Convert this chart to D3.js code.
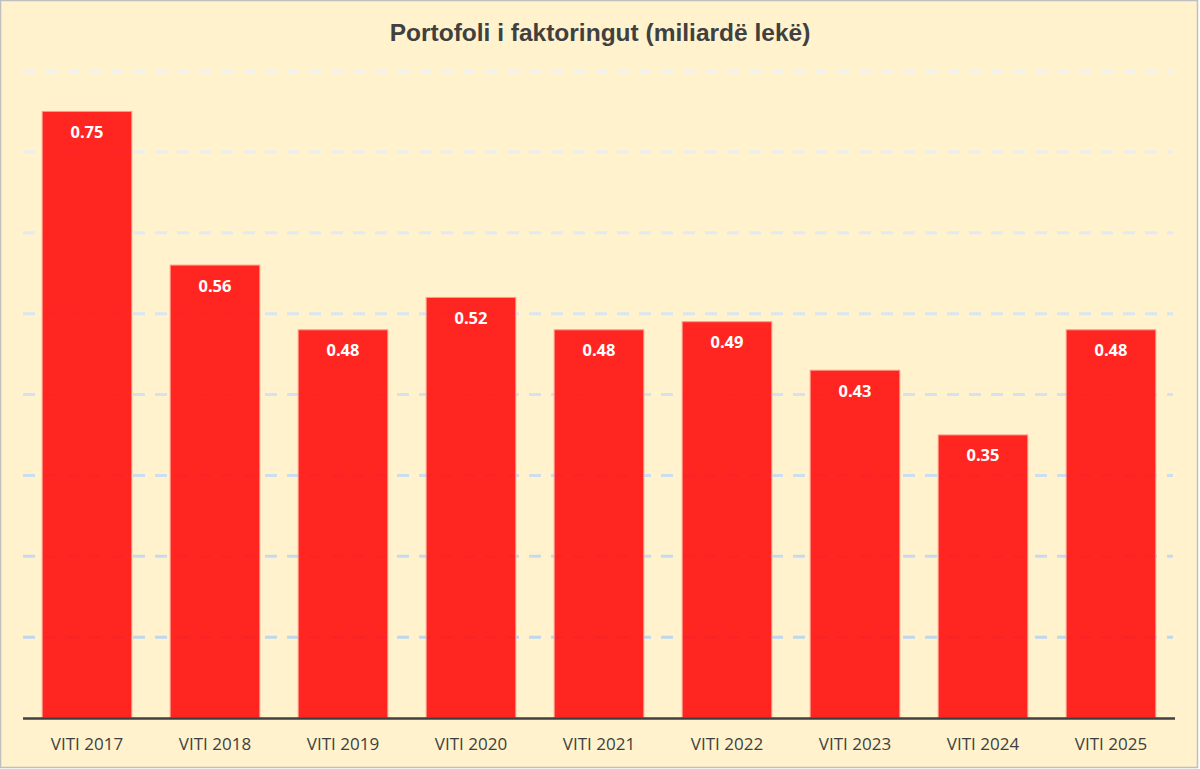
<!DOCTYPE html>
<html>
<head>
<meta charset="utf-8">
<script src="https://cdn.jsdelivr.net/npm/d3@7.9.0/dist/d3.min.js"></script>
<style>
  html, body { margin: 0; padding: 0; background: #fff; }
  svg { display: block; }
</style>
</head>
<body>
<svg id="vis"></svg>
<script>
const width = 1200;
const height = 769;

// --- data ---
const years = ["VITI 2017", "VITI 2018", "VITI 2019", "VITI 2020", "VITI 2021",
               "VITI 2022", "VITI 2023", "VITI 2024", "VITI 2025"];
const portfolio = [0.75, 0.56, 0.48, 0.52, 0.48, 0.49, 0.43, 0.35, 0.48];
const gridTicks = [0.1, 0.2, 0.3, 0.4, 0.5, 0.6, 0.7, 0.8];
const title = "Portofoli i faktoringut (miliardë lekë)";

const margin = { top: 71, right: 25, bottom: 51, left: 23 };

const svg = d3.select("#vis")
    .attr("width", width)
    .attr("height", height);

// background + frame
svg.append("rect")
    .attr("x", 0.5).attr("y", 0.5)
    .attr("width", width - 3).attr("height", height - 2)
    .attr("fill", "#FFF2CC")
    .attr("stroke", "#BFBFBF")
    .attr("stroke-width", 1.5);

const x = d3.scaleBand()
    .domain(years)
    .range([margin.left, width - margin.right])
    .paddingInner(0.3)
    .paddingOuter(0.15);

const y = d3.scaleLinear()
    .domain([0, 0.8])
    .range([height - margin.bottom, margin.top]);

// gridline colour fades from near white at the top to light blue at the bottom
const gridColor = d3.scaleLinear()
    .domain([0.8, 0.1])
    .range(["#EEF1F5", "#BDD7EE"]);

// dashed gridlines (show faintly through the bars)
svg.append("g")
    .selectAll("line")
    .data(gridTicks)
    .join("line")
    .attr("x1", margin.left)
    .attr("x2", width - margin.right - 2)
    .attr("y1", d => y(d))
    .attr("y2", d => y(d))
    .attr("stroke", d => gridColor(d))
    .attr("stroke-width", 3)
    .attr("stroke-dasharray", "12,10");

// bars, slightly transparent
svg.append("g")
    .selectAll("rect")
    .data(portfolio)
    .join("rect")
    .attr("x", (d, i) => x(years[i]))
    .attr("y", d => y(d))
    .attr("width", x.bandwidth())
    .attr("height", d => y(0) - y(d))
    .attr("fill", "#FF1010")
    .attr("fill-opacity", 0.9)
    .attr("stroke", "#FF9A8A")
    .attr("stroke-width", 1);

// baseline
svg.append("line")
    .attr("x1", margin.left)
    .attr("x2", width - margin.right)
    .attr("y1", y(0) + 0.5)
    .attr("y2", y(0) + 0.5)
    .attr("stroke", "#404040")
    .attr("stroke-width", 2.5);

// value labels
svg.append("g")
    .selectAll("text")
    .data(portfolio)
    .join("text")
    .attr("x", (d, i) => x(years[i]) + x.bandwidth() / 2)
    .attr("y", d => y(d) + 20)
    .attr("text-anchor", "middle")
    .attr("dominant-baseline", "central")
    .attr("fill", "#FFFFFF")
    .style("font-family", "'Open Sans', 'Noto Sans', sans-serif")
    .style("font-weight", "bold")
    .style("font-size", "16.5px")
    .text(d => d.toFixed(2));

// category axis labels
svg.append("g")
    .attr("transform", `translate(0, ${y(0)})`)
    .call(d3.axisBottom(x).tickSize(0).tickPadding(20))
    .call(g => g.select(".domain").remove())
    .call(g => g.selectAll("text")
        .attr("fill", "#404040")
        .style("font-family", "'Open Sans', 'Noto Sans', sans-serif")
        .style("font-size", "17px"));

// title
svg.append("text")
    .attr("x", width / 2)
    .attr("y", 32)
    .attr("text-anchor", "middle")
    .attr("dominant-baseline", "central")
    .attr("fill", "#404040")
    .style("font-family", "'Liberation Sans', Arial, sans-serif")
    .style("font-weight", "bold")
    .style("font-size", "24.5px")
    .text(title);
</script>
</body>
</html>
